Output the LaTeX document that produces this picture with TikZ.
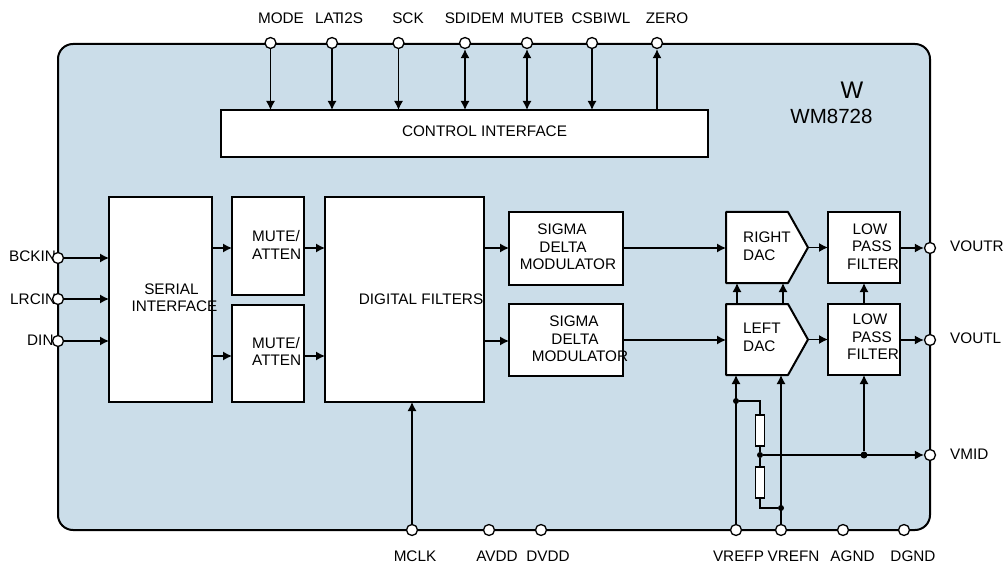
\documentclass[tikz,border=0pt]{standalone}
\usepackage{fontspec}
\setmainfont{Liberation Sans}
\usetikzlibrary{positioning,arrows.meta,calc}
\definecolor{panelblue}{HTML}{CBDDE9}
\tikzset{
    panel/.style={draw,line width=2pt,fill=panelblue,rounded corners=15pt},
    block/.style={draw,line width=2pt,fill=white,anchor=north west,inner sep=0pt,outer sep=0pt},
    dacshape/.style={line width=2pt,fill=white,line join=round},
    txt/.style={align=center,font=\fontsize{15.3}{17.5}\selectfont,inner sep=0pt},
    lefttxt/.style={txt,align=left,anchor=west},
    pin/.style={circle,draw,line width=1.3pt,fill=white,minimum size=11pt,inner sep=0pt},
    sig/.style={line width=1.3pt,-{Latex[length=9pt,width=9pt]}},
    bidir/.style={line width=1.3pt,{Latex[length=9pt,width=9pt]}-{Latex[length=9pt,width=9pt]}},
    wire/.style={line width=1.3pt},
    joint/.style={circle,fill,minimum size=6pt,inner sep=0pt},
    bigjoint/.style={circle,fill,minimum size=7pt,inner sep=0pt},
    resistor/.style={draw,line width=1.3pt,fill=white,minimum width=9pt,minimum height=31pt,inner sep=0pt}
}

\begin{document}
\begin{tikzpicture}[x=1pt,y=-1pt]
\useasboundingbox (0,0) rectangle (1007,564);

\draw[panel] (58,44) rectangle (930,530);

% boxes
\node[block,minimum width=487pt,minimum height=47pt] (ctrl) at (221,110) {};
\node[block,minimum width=103pt,minimum height=205pt] (serial) at (109,197) {};
\node[block,minimum width=72pt,minimum height=98pt] (muteA) at (232,197) {};
\node[block,minimum width=72pt,minimum height=97pt] (muteB) at (232,305) {};
\node[block,minimum width=159pt,minimum height=205pt] (digital) at (325,197) {};
\node[block,minimum width=114pt,minimum height=72pt] (sigmaA) at (509,212.5) {};
\node[block,minimum width=114pt,minimum height=72pt] (sigmaB) at (509,304) {};
\node[block,minimum width=72pt,minimum height=71pt] (lowA) at (828,212) {};
\node[block,minimum width=72pt,minimum height=71pt] (lowB) at (828,304) {};

% the two DACs
\draw[dacshape] (726,212) -- (788,212) -- (808,247.5) -- (788,283) -- (726,283) -- cycle;
\draw[dacshape] (726,304) -- (788,304) -- (808,339.5) -- (788,375) -- (726,375) -- cycle;
\coordinate (dacAtip) at (808,247.5);
\coordinate (dacBtip) at (808,339.5);
\coordinate (dacAin) at (726,248);
\coordinate (dacBin) at (726,340);

% box texts
\node[txt] (ctrlText) at (484.5,131) {CONTROL INTERFACE};
\node[txt] (serialText) at (174.5,297.5) {SERIAL\kern6pt\\INTERFACE};
\node[lefttxt] (muteAText) at (252,245) {MUTE/\\ATTEN};
\node[lefttxt] (muteBText) at (252,351.5) {MUTE/\\ATTEN};
\node[txt] (digitalText) at (421,299) {DIGITAL FILTERS};
\node[txt] (sigmaAText) at (568,247) {SIGMA\kern12pt\\DELTA\kern10pt\\MODULATOR};
\node[txt] (sigmaBText) at (580,339) {SIGMA\kern12pt\\DELTA\kern10pt\\MODULATOR};
\node[lefttxt] (dacAText) at (743,246) {RIGHT\\DAC};
\node[lefttxt] (dacBText) at (743,337.5) {LEFT\\DAC};
\node[txt] (lowAText) at (873,246.5) {LOW\kern6pt\\PASS\kern2pt\\FILTER};
\node[txt] (lowBText) at (873,337) {LOW\kern6pt\\PASS\kern2pt\\FILTER};
\node[txt,font=\fontsize{24}{24}\selectfont] (markW) at (852,90) {W};
\node[txt,font=\fontsize{20.5}{24}\selectfont] (chipName) at (831.5,116) {WM8728};

% pins, top
\foreach \x/\pname/\lbl/\lx in {270.5/mode/MODE/281,332/lat/LAT\kern-2pt I2S/339,398.5/sck/SCK/408,465/sdi/SDIDEM/474.5,527/mute/MUTEB/537,592/csb/CSBIWL/601,657/zero/ZERO/667}{
    \node[pin] (\pname) at (\x,43) {};
    \node[txt] (\pname L) at (\lx,18.5) {\lbl};
}

% pins, left and right
\foreach \y/\pname/\lbl/\lx/\ly in {258/bck/BCKIN/9/256,299/lrc/LRCIN/10/299,341/din/DIN/27/340}{
    \node[txt,anchor=west] (\pname L) at (\lx,\ly) {\lbl};
    \node[pin] (\pname) at (58,\y) {};
}
\foreach \y/\pname/\lbl/\ly in {248/voutr/VOUTR/246,340/voutl/VOUTL/338,455/vmid/VMID/454}{
    \node[pin] (\pname) at (930,\y) {};
    \node[txt,anchor=west] (\pname L) at (950,\ly) {\lbl};
}

% pins, bottom
\foreach \x/\pname/\lbl/\lx in {412/mclk/MCLK/415,489/avdd/AVDD/497,541/dvdd/DVDD/548,736/vrefp/VREFP/738.5,781/vrefn/VREFN/793.5,843/agnd/AGND/852.5,904/dgnd/DGND/913}{
    \node[pin] (\pname) at (\x,530) {};
    \node[txt] (\pname L) at (\lx,556.5) {\lbl};
}

% control lines
\draw[sig] (mode) -- (mode |- ctrl.north);
\draw[sig] (lat) -- (lat |- ctrl.north);
\draw[sig] (sck) -- (sck |- ctrl.north);
\draw[bidir] (sdi) -- (sdi |- ctrl.north);
\draw[bidir] (mute) -- (mute |- ctrl.north);
\draw[sig] (csb) -- (csb |- ctrl.north);
\draw[sig] (zero |- ctrl.north) -- (zero);

% signal path
\draw[sig] (bck) -- (bck -| serial.west);
\draw[sig] (lrc) -- (lrc -| serial.west);
\draw[sig] (din) -- (din -| serial.west);
\draw[sig] (serial.east |- 0,248) -- (muteA.west |- 0,248);
\draw[sig] (serial.east |- 0,356) -- (muteB.west |- 0,356);
\draw[sig] (muteA.east |- 0,248) -- (digital.west |- 0,248);
\draw[sig] (muteB.east |- 0,356) -- (digital.west |- 0,356);
\draw[sig] (digital.east |- 0,248) -- (sigmaA.west |- 0,248);
\draw[sig] (digital.east |- 0,341) -- (sigmaB.west |- 0,341);
\draw[sig] (sigmaA.east |- dacAin) -- (dacAin);
\draw[sig] (sigmaB.east |- dacBin) -- (dacBin);
\draw[sig] (dacAtip) -- (lowA.west |- dacAtip);
\draw[sig] (dacBtip) -- (lowB.west |- dacBtip);
\draw[sig] (lowA.east |- voutr) -- (voutr);
\draw[sig] (lowB.east |- voutl) -- (voutl);
\draw[sig] (lowB.north) -- (lowA.south);
\draw[sig] (737,304) -- (737,283);
\draw[sig] (783,304) -- (783,283);
\draw[sig] (mclk) -- (mclk |- digital.south);

% reference ladder
\node[resistor] (resA) at (760,430.5) {};
\node[resistor] (resB) at (760,482.5) {};
\node[joint] (jointP) at (736,401) {};
\node[joint] (jointN) at (781,508) {};
\node[joint] (jointM) at (760,455) {};
\node[bigjoint] (jointL) at (864,455) {};
\draw[sig] (vrefp) -- (vrefp |- lowB.south);
\draw[sig] (vrefn) -- (vrefn |- lowB.south);
\draw[wire] (jointP) -| (resA.north);
\draw[wire] (resA.south) -- (jointM) -- (resB.north);
\draw[wire] (resB.south) |- (jointN);
\draw[sig] (jointM) -- (vmid);
\draw[sig] (jointL) -- (jointL |- lowB.south);
\end{tikzpicture}
\end{document}
